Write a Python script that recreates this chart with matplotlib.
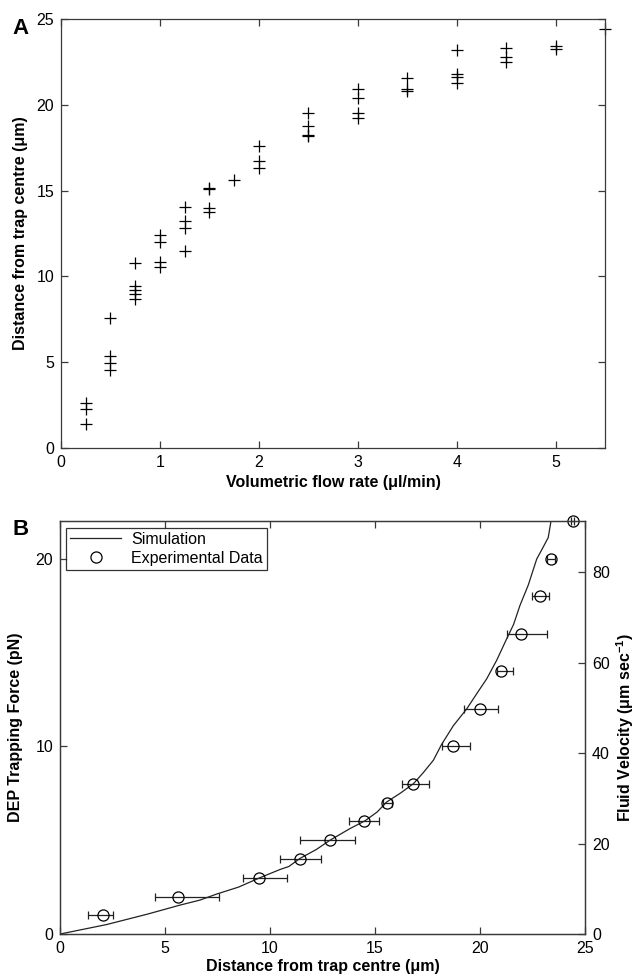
import matplotlib
matplotlib.use("Agg")
import matplotlib.pyplot as plt
from matplotlib.lines import Line2D
import numpy as np

plt.rcParams["font.family"] = ["Liberation Sans", "DejaVu Sans"]
plt.rcParams["mathtext.fontset"] = "custom"
plt.rcParams["mathtext.rm"] = "Liberation Sans"
plt.rcParams["mathtext.bf"] = "Liberation Sans:bold"

# Panel A: trap distance vs flow rate
flow_rate = [
    0.25, 0.25, 0.25,
    0.5, 0.5, 0.5, 0.5,
    0.75, 0.75, 0.75, 0.75, 0.75,
    1.0, 1.0, 1.0, 1.0,
    1.25, 1.25, 1.25, 1.25,
    1.5, 1.5, 1.5, 1.5,
    1.75,
    2.0, 2.0, 2.0,
    2.5, 2.5, 2.5, 2.5,
    3.0, 3.0, 3.0, 3.0,
    3.5, 3.5, 3.5,
    4.0, 4.0, 4.0, 4.0,
    4.5, 4.5, 4.5,
    5.0, 5.0,
    5.5,
]
trap_distance = [
    2.6, 2.3, 1.4,
    7.6, 5.35, 4.95, 4.55,
    10.8, 9.45, 9.2, 8.95, 8.7,
    12.4, 12.0, 10.85, 10.55,
    14.05, 13.25, 12.85, 11.5,
    15.15, 15.1, 14.0, 13.75,
    15.6,
    17.6, 16.7, 16.3,
    19.5, 18.75, 18.25, 18.2,
    20.9, 20.4, 19.5, 19.25,
    21.55, 20.9, 20.8,
    23.2, 21.8, 21.65, 21.3,
    23.3, 22.8, 22.5,
    23.45, 23.25,
    24.4,
]

# Panel B: simulated curve
sim_dist = [0, 2.2, 4.13, 5.71, 6.67, 7.46, 8.5, 9.52, 10.48, 10.9, 11.43,
            12.2, 12.86, 13.81, 14.52, 15.1, 15.56, 16.2, 16.83, 17.3, 17.78,
            18.17, 18.73, 19.37, 19.9, 20.32, 20.8, 21.27, 21.6, 21.9, 22.3,
            22.7, 23.0, 23.25, 23.38]
sim_force = [0, 0.5, 1.05, 1.54, 1.81, 2.13, 2.5, 3.0, 3.44, 3.6, 4.03,
             4.5, 5.0, 5.62, 6.03, 6.5, 7.04, 7.5, 8.01, 8.6, 9.26,
             10.1, 11.1, 12.0, 12.9, 13.6, 14.6, 15.73, 16.5, 17.5, 18.6,
             19.98, 20.6, 21.13, 22.0]

# Panel B: experimental data with horizontal error bars
exp_force = [1, 2, 3, 4, 5, 6, 7, 8, 10, 12, 14, 16, 18, 20, 22]
exp_dist = [2.03, 5.6, 9.46, 11.44, 12.86, 14.49, 15.59, 16.83, 18.7, 20.0,
            21.02, 21.95, 22.87, 23.37, 24.44]
err_left = [1.32, 4.52, 8.73, 10.5, 11.43, 13.76, 15.4, 16.27, 18.17, 19.25,
            20.8, 21.27, 22.49, 23.2, 24.35]
err_right = [2.51, 7.56, 10.8, 12.41, 14.05, 15.17, 15.8, 17.59, 19.52, 20.87,
             21.56, 23.2, 23.3, 23.55, 24.5]

SPINE = "#3a3a3a"
FS = 11.5


def style_axes(ax):
    for sp in ax.spines.values():
        sp.set_color(SPINE)
        sp.set_linewidth(0.9)
    ax.tick_params(direction="in", length=5, width=0.9, color=SPINE,
                   labelsize=FS, pad=5)


fig = plt.figure(figsize=(6.36, 9.76), dpi=100)

# ---- Panel A ----
axA = fig.add_axes([0.0959, 0.541, 0.856, 0.4395])
axA.plot(flow_rate, trap_distance, linestyle="none", marker="+", color="black",
         markersize=8, markeredgewidth=0.9, clip_on=False)
axA.set_xlim(0, 5.5)
axA.set_ylim(0, 25)
axA.set_xticks([0, 1, 2, 3, 4, 5])
axA.set_yticks([0, 5, 10, 15, 20, 25])
style_axes(axA)
axA.tick_params(top=True, right=True)
axA.set_xlabel("Volumetric flow rate (μl/min)", fontsize=FS, fontweight="bold",
               labelpad=4)
axA.set_ylabel("Distance from trap centre (μm)", fontsize=FS, fontweight="bold",
               labelpad=6)
fig.text(0.02, 0.982, "A", fontsize=16, fontweight="bold", va="top", ha="left")

# ---- Panel B ----
axB = fig.add_axes([0.0943, 0.043, 0.8255, 0.423])
axB.plot(sim_dist, sim_force, color="#222222", linewidth=0.9)
xerr = [np.array(exp_dist) - np.array(err_left),
        np.array(err_right) - np.array(exp_dist)]
axB.errorbar(exp_dist, exp_force, xerr=xerr, fmt="o", markersize=8,
             markerfacecolor="none", markeredgecolor="black", markeredgewidth=0.9,
             ecolor="#222222", elinewidth=0.9, capsize=3, capthick=0.9,
             clip_on=False)
axB.set_xlim(0, 25)
axB.set_ylim(0, 22)
axB.set_xticks([0, 5, 10, 15, 20, 25])
axB.set_yticks([0, 10, 20])
style_axes(axB)
axB.tick_params(top=True, right=False)
axB.set_xlabel("Distance from trap centre (μm)", fontsize=FS, fontweight="bold",
               labelpad=2)
axB.set_ylabel("DEP Trapping Force (pN)", fontsize=FS, fontweight="bold",
               labelpad=9)

handles = [
    Line2D([], [], color="#222222", linewidth=0.9),
    Line2D([], [], linestyle="none", marker="o", markersize=8,
           markerfacecolor="none", markeredgecolor="black", markeredgewidth=0.9),
]
leg = axB.legend(handles, ["Simulation", "Experimental Data"], loc="upper left",
                 fontsize=FS, frameon=True, fancybox=False, handlelength=3.2,
                 borderpad=0.25, labelspacing=0.25, borderaxespad=0.4,
                 handletextpad=0.6)
leg.get_frame().set_edgecolor("black")
leg.get_frame().set_linewidth(0.9)

axR = axB.twinx()
axR.set_ylim(0, 91.3)
axR.set_yticks([0, 20, 40, 60, 80])
style_axes(axR)
axR.set_ylabel(r"Fluid Velocity (μm sec$^{\mathbf{-1}}$)", fontsize=FS,
               fontweight="bold", rotation=90, labelpad=3)
fig.text(0.02, 0.468, "B", fontsize=16, fontweight="bold", va="top", ha="left")

fig.savefig("out.png", dpi=100, facecolor="white")
